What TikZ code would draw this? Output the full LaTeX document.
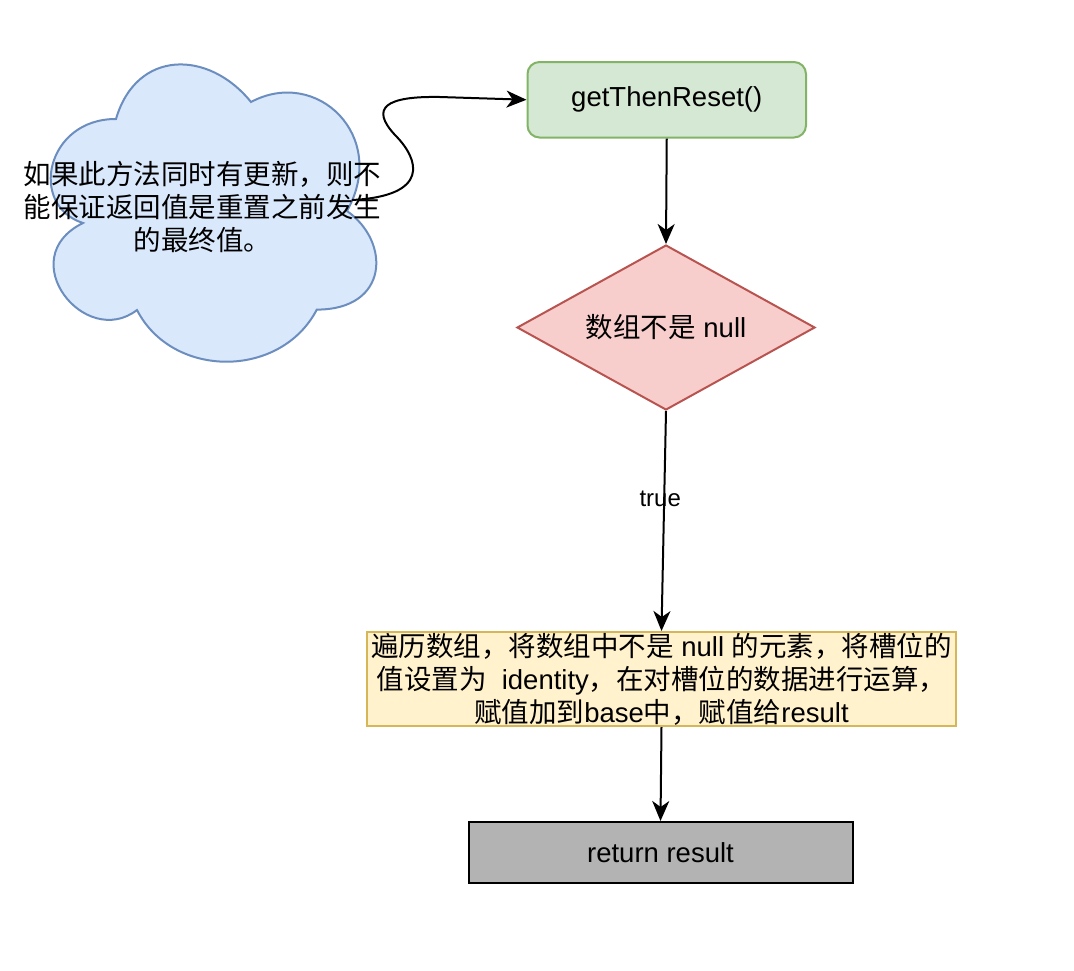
\documentclass[tikz,border=0pt]{standalone}
\usepackage{fontspec}
\setmainfont{Liberation Sans}
\newfontfamily\cjk{Noto Sans CJK SC}
\usetikzlibrary{shapes.geometric,arrows.meta}
\definecolor{bluefill}{HTML}{DAE8FC}
\definecolor{bluedraw}{HTML}{6C8EBF}
\definecolor{greenfill}{HTML}{D5E8D4}
\definecolor{greendraw}{HTML}{82B366}
\definecolor{redfill}{HTML}{F8CECC}
\definecolor{reddraw}{HTML}{B85450}
\definecolor{yellowfill}{HTML}{FFF2CC}
\definecolor{yellowdraw}{HTML}{D6B656}
\definecolor{grayfill}{HTML}{B3B3B3}
\tikzset{
  basefont/.style={font=\fontsize{27.5}{33}\selectfont},
  boxnode/.style={basefont, line width=2pt, inner sep=0pt, align=center},
  flow/.style={line width=2pt, -{Stealth[length=20pt,width=17pt,inset=6pt]}},
}
\begin{document}
\begin{tikzpicture}[x=1pt,y=-1pt]
\useasboundingbox (0,0) rectangle (1074,970);
% cloud shape
\filldraw[fill=bluefill, draw=bluedraw, line width=2pt]
  (116,119)
  .. controls (46.05,118.75) and (28,205.5) .. (83,223)
  .. controls (12,258) and (85,350) .. (137,310)
  .. controls (172.4,379) and (280.7,379) .. (316.8,309.6)
  .. controls (389,309.6) and (391,242) .. (347,211)
  .. controls (389,136.1) and (316.8,66.7) .. (251,102)
  .. controls (208.5,49.35) and (136.3,49.35) .. (116,119) -- cycle;
\coordinate (cloudexit) at (352,200);
% nodes
\node[boxnode, draw=greendraw, fill=greenfill, rounded corners=12pt,
      minimum width=278.5pt, minimum height=75.5pt] (reset) at (666.75,99.75) {getThenReset()};
\node[boxnode, diamond, aspect=1.8, draw=reddraw, fill=redfill,
      minimum width=298pt, minimum height=165pt] (check) at (666,327.5) {{\cjk 数组不是} null};
\node[boxnode, draw=yellowdraw, fill=yellowfill,
      minimum width=589pt, minimum height=94pt] (loop) at (661.5,679)
  {{\cjk 遍历数组，将数组中不是} null {\cjk 的元素，将槽位的}\\
   {\cjk 值设置为}\ \ identity{\cjk ，在对槽位的数据进行运算，}\\
   {\cjk 赋值加到}base{\cjk 中，赋值给}result};
\node[boxnode, draw=black, fill=grayfill,
      minimum width=384pt, minimum height=60.5pt] (ret) at (660.5,852.25) {return result};
% connectors
\draw[flow] (cloudexit) .. controls (430,196) and (420,160) .. (395,135)
  .. controls (370,108) and (385,96) .. (440,97) -- (reset.west);
\draw[flow] (reset.south) -- (check.north);
\draw[flow] (check.south) -- node[pos=0.40, xshift=-4pt, font=\fontsize{24}{28}\selectfont] {true} (loop.north);
\draw[flow] (loop.south) -- (ret.north);
% cloud text (on top of connector)
\node[basefont, align=center, inner sep=0pt] (cloudtext) at (202.5,207)
  {\cjk 如果此方法同时有更新，则不\\ \cjk 能保证返回值是重置之前发生\\ \cjk 的最终值。};
\end{tikzpicture}
\end{document}
